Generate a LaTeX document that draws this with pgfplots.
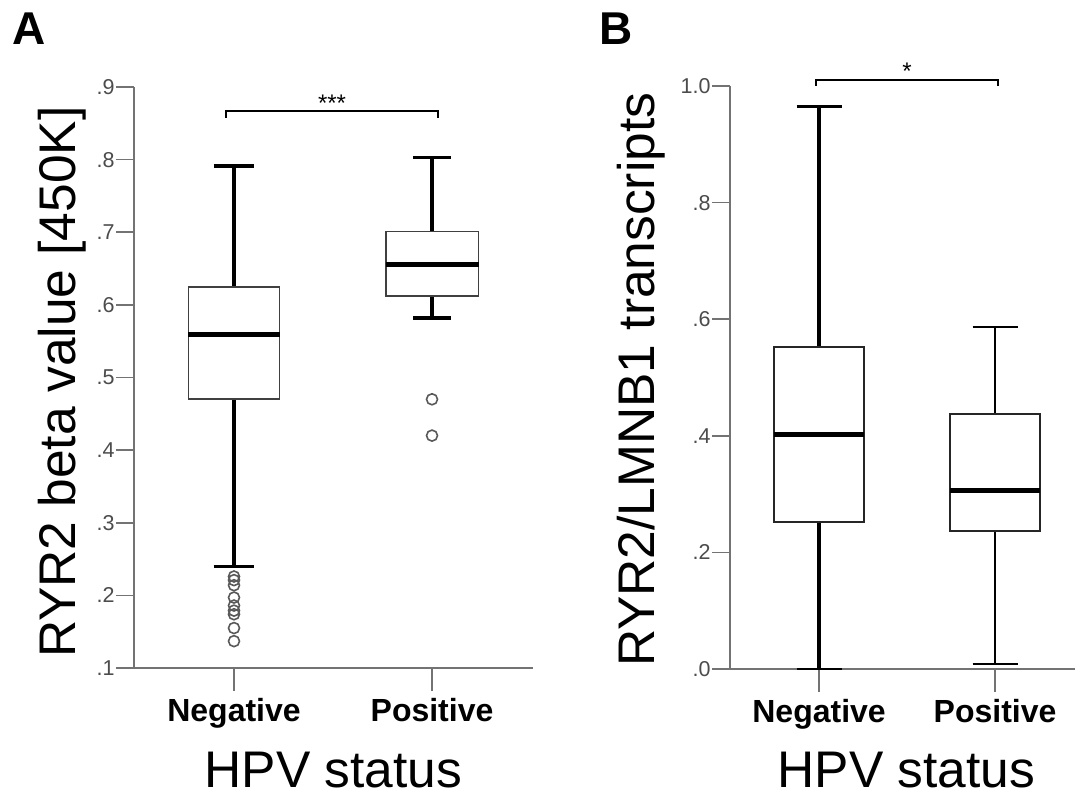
\documentclass[border=0pt]{standalone}
\usepackage{fontspec}
\setmainfont{Liberation Sans}
\usepackage{pgfplots}
\pgfplotsset{compat=1.18}
\definecolor{axgray}{gray}{0.45}
\definecolor{lblgray}{gray}{0.3}
\begin{document}
\begin{tikzpicture}
\useasboundingbox (0pt,0pt) rectangle (1075pt,796pt);
\pgfplotsset{
  spss/.style={
    scale only axis, clip=false,
    axis x line*=bottom, axis y line*=left,
    axis line style={axgray, line width=1.6pt},
    tick style={axgray, line width=1.6pt},
    tick align=outside,
    xtick style={/pgfplots/major tick length=23pt},
    ytick style={/pgfplots/major tick length=18pt},
    xtick={0,1}, xticklabels={Negative,Positive},
    xticklabel style={font=\bfseries\fontsize{32}{36}\selectfont, inner sep=8pt, yshift=-18pt},
    yticklabel style={font=\fontsize{21.5}{24}\selectfont, text=lblgray, inner sep=2pt, xshift=-13pt},
    xlabel={HPV status},
    every axis x label/.style={at={(axis description cs:0.5,0)}, anchor=base, yshift=-119pt, font=\fontsize{51.5}{60}\selectfont},
  },
  outl/.style={only marks, mark=o, mark size=5.5pt, mark options={draw=black!65, line width=1.6pt}},
  boxs/.style={draw=black!75, line width=1.6pt, fill=white, line join=miter},
  wh/.style={black, line width=#1},
  med/.style={black, line width=5pt},
}
% ---------------- Panel A ----------------
\begin{axis}[spss,
  at={(134pt,128pt)}, anchor=south west,
  width=399pt, height=581pt,
  xmin=-0.505, xmax=1.51, ymin=0.1, ymax=0.9,
  ytick={0.1,0.2,0.3,0.4,0.5,0.6,0.7,0.8,0.9},
  yticklabels={.1,.2,.3,.4,.5,.6,.7,.8,.9},
  ylabel={RYR2 beta value [450K]},
  every axis y label/.style={at={(axis description cs:-0.2419,0.492)}, rotate=90, anchor=north, inner sep=0pt, font=\fontsize{51.5}{60}\selectfont},
]
% Negative: whiskers
\addplot[wh=3.5pt] coordinates {(0,0.625) (0,0.791)};
\addplot[wh=3.5pt] coordinates {(-0.1035,0.791) (0.1035,0.791)};
\addplot[wh=3.5pt] coordinates {(0,0.470) (0,0.240)};
\addplot[wh=3.5pt] coordinates {(-0.1035,0.240) (0.1035,0.240)};
\addplot[boxs] coordinates {(-0.23,0.470) (0.23,0.470) (0.23,0.625) (-0.23,0.625)} --cycle;
\addplot[med] coordinates {(-0.23,0.559) (0.23,0.559)};
% Positive
\addplot[wh=3.2pt] coordinates {(1,0.701) (1,0.803)};
\addplot[wh=3.2pt] coordinates {(0.906,0.803) (1.094,0.803)};
\addplot[wh=3.2pt] coordinates {(1,0.612) (1,0.582)};
\addplot[wh=3.2pt] coordinates {(0.906,0.582) (1.094,0.582)};
\addplot[boxs] coordinates {(0.767,0.612) (1.235,0.612) (1.235,0.701) (0.767,0.701)} --cycle;
\addplot[med] coordinates {(0.767,0.655) (1.235,0.655)};
% outliers
\addplot[outl] coordinates {(0,0.226) (0,0.221) (0,0.214) (0,0.197) (0,0.186) (0,0.179) (0,0.174) (0,0.155) (0,0.137)};
\addplot[outl] coordinates {(1,0.470) (1,0.420)};
% significance
\addplot[black, line width=2pt] coordinates {(-0.04,0.858) (-0.04,0.867) (1.03,0.867) (1.03,0.858)};
\node[anchor=base, inner sep=0pt, font=\fontsize{24}{26}\selectfont] at (axis cs:0.495,0.866) {***};
\end{axis}
\node[anchor=base west, inner sep=0pt, font=\bfseries\fontsize{46}{50}\selectfont] at (12pt,751pt) {A};
% ---------------- Panel B ----------------
\begin{axis}[spss,
  at={(730pt,127pt)}, anchor=south west,
  width=345pt, height=583pt,
  xmin=-0.506, xmax=1.4545, ymin=0, ymax=1.0,
  ytick={0,0.2,0.4,0.6,0.8,1.0},
  yticklabels={.0,.2,.4,.6,.8,1.0},
  ylabel={RYR2/LMNB1 transcripts},
  every axis y label/.style={at={(axis description cs:-0.3275,0.496)}, rotate=90, anchor=north, inner sep=0pt, font=\fontsize{51.5}{60}\selectfont},
  every axis x label/.style={at={(axis description cs:0.5116,0)}, anchor=base, yshift=-118pt, font=\fontsize{51.5}{60}\selectfont},
]
% Negative
\addplot[wh=3.2pt] coordinates {(0,0.553) (0,0.965)};
\addplot[wh=3.2pt] coordinates {(-0.128,0.965) (0.128,0.965)};
\addplot[wh=3.2pt] coordinates {(0,0.2526) (0,0.0)};
\addplot[wh=2.2pt] coordinates {(-0.128,0.0) (0.128,0.0)};
\addplot[boxs, draw=black!85, line width=1.8pt] coordinates {(-0.255,0.2526) (0.255,0.2526) (0.255,0.553) (-0.255,0.553)} --cycle;
\addplot[med] coordinates {(-0.255,0.4016) (0.255,0.4016)};
% Positive
\addplot[wh=2.2pt] coordinates {(1,0.438) (1,0.586)};
\addplot[wh=2.2pt] coordinates {(0.872,0.586) (1.128,0.586)};
\addplot[wh=2.2pt] coordinates {(1,0.237) (1,0.0086)};
\addplot[wh=2.2pt] coordinates {(0.872,0.0086) (1.128,0.0086)};
\addplot[boxs, draw=black!85, line width=1.8pt] coordinates {(0.745,0.237) (1.255,0.237) (1.255,0.438) (0.745,0.438)} --cycle;
\addplot[med] coordinates {(0.745,0.3066) (1.255,0.3066)};
% significance
\addplot[black, line width=2pt] coordinates {(-0.017,1.0) (-0.017,1.0105) (1.017,1.0105) (1.017,1.0)};
\node[anchor=base, inner sep=0pt, font=\fontsize{24}{26}\selectfont] at (axis cs:0.5,1.0105) {*};
\end{axis}
\node[anchor=base west, inner sep=0pt, font=\bfseries\fontsize{46}{50}\selectfont] at (599.6pt,751pt) {B};
\end{tikzpicture}
\end{document}
